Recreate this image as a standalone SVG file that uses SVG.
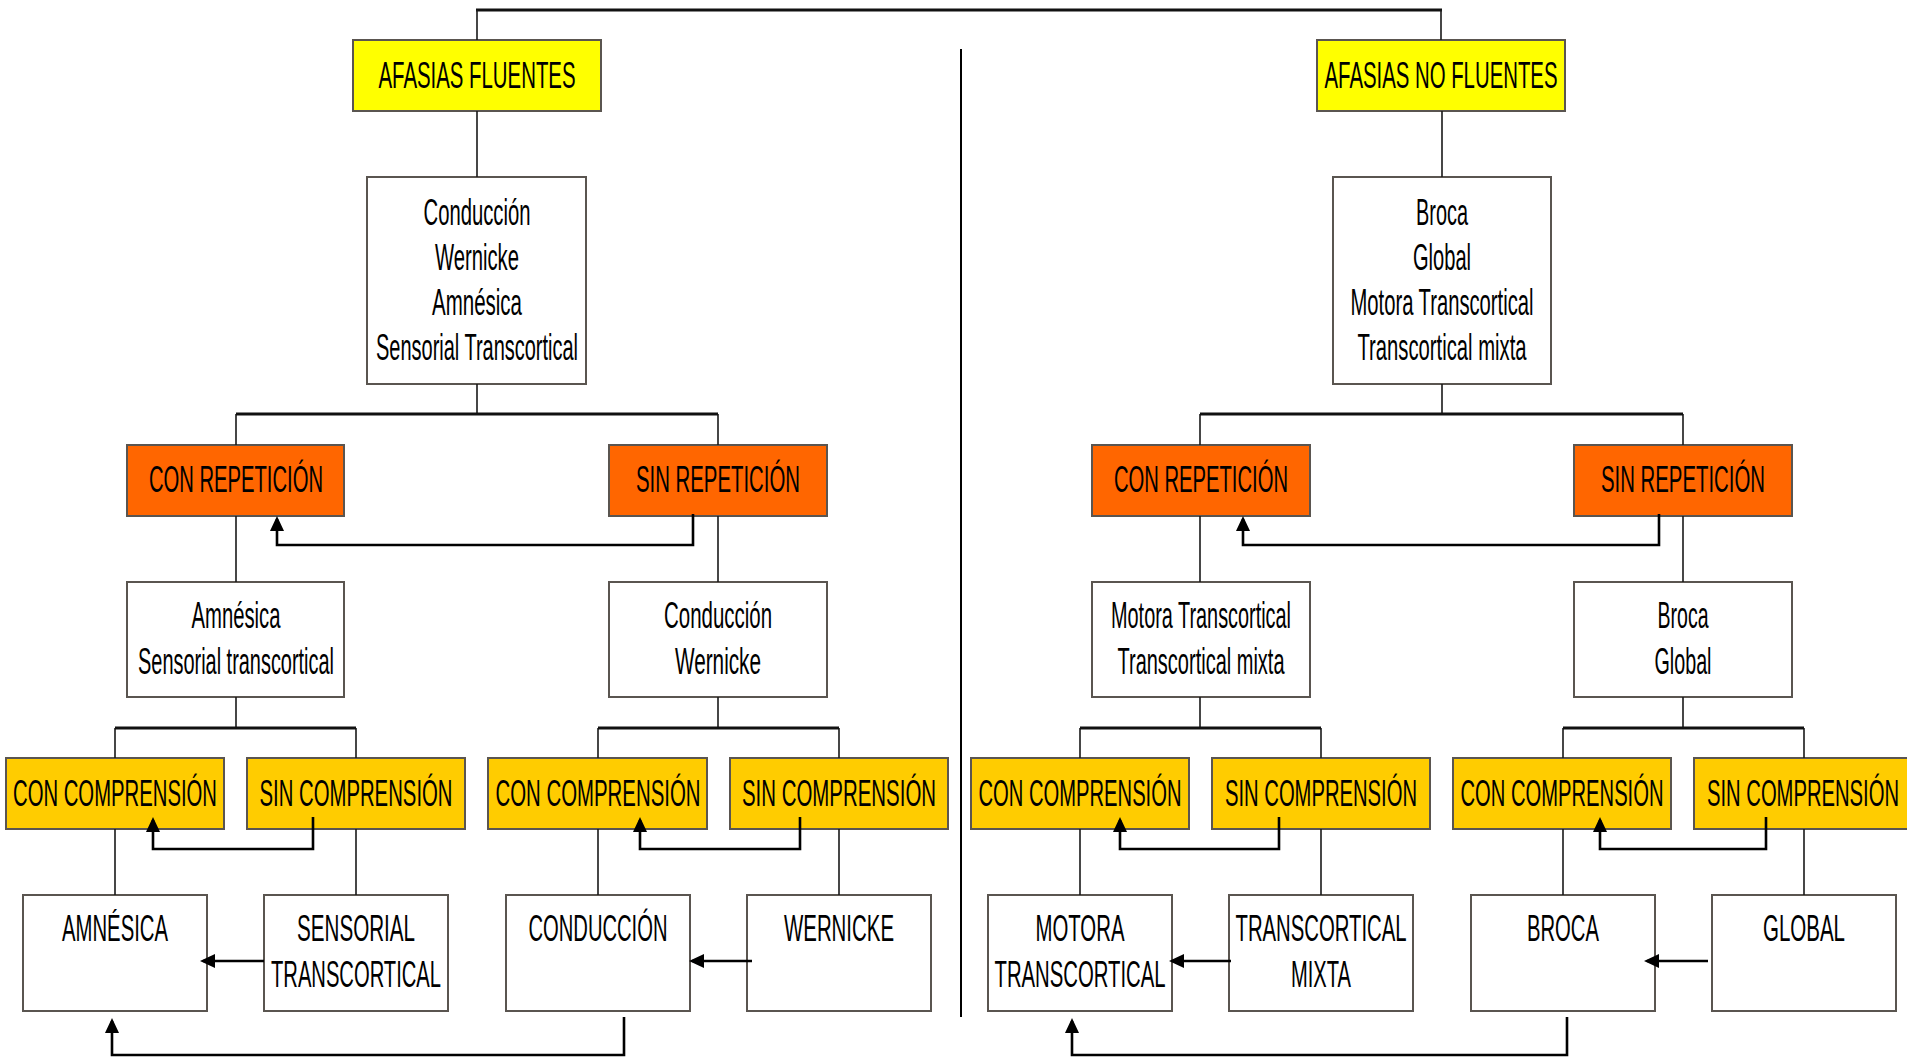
<svg xmlns="http://www.w3.org/2000/svg" width="1907" height="1057" viewBox="0 0 1907 1057">
<style>
.box{stroke:#5a5550;stroke-width:2}
.y{fill:#FFFF00}.o{fill:#FF6600}.g{fill:#FFCC00}.w{fill:#FFFFFF}
text{font-family:"Liberation Sans",Arial,sans-serif;font-size:37px;fill:#000;text-anchor:middle}
.t{fill:none;stroke:#1a1a1a;stroke-width:1.6}
.bar{fill:none;stroke:#111;stroke-width:3}
.a{fill:none;stroke:#000;stroke-width:2.6;marker-end:url(#ah)}
</style>
<defs>
<marker id="ah" markerUnits="userSpaceOnUse" markerWidth="15" markerHeight="14" viewBox="0 0 15 14" refX="12" refY="7" orient="auto">
<path d="M0,0 L15,7 L0,14 z" fill="#000"/>
</marker>
</defs>
<rect width="1907" height="1057" fill="#fff"/>

<g id="n-fluentes"><rect class="box y" x="353" y="40" width="248" height="71"/><text transform="translate(477,88) scale(0.545,1)" textLength="361.5" lengthAdjust="spacingAndGlyphs">AFASIAS FLUENTES</text></g>
<g id="n-nofluentes"><rect class="box y" x="1317" y="40" width="248" height="71"/><text transform="translate(1441,88) scale(0.545,1)" textLength="427.5" lengthAdjust="spacingAndGlyphs">AFASIAS NO FLUENTES</text></g>

<g id="n-list-left"><rect class="box w" x="367" y="177" width="219" height="207"/>
<text transform="translate(477,225) scale(0.545,1)" textLength="196.3" lengthAdjust="spacingAndGlyphs">Conducción</text>
<text transform="translate(477,270) scale(0.545,1)" textLength="154.1" lengthAdjust="spacingAndGlyphs">Wernicke</text>
<text transform="translate(477,315) scale(0.545,1)" textLength="165.1" lengthAdjust="spacingAndGlyphs">Amnésica</text>
<text transform="translate(477,360) scale(0.545,1)" textLength="370.6" lengthAdjust="spacingAndGlyphs">Sensorial Transcortical</text></g>
<g id="n-list-right"><rect class="box w" x="1333" y="177" width="218" height="207"/>
<text transform="translate(1442,225) scale(0.545,1)" textLength="95.4" lengthAdjust="spacingAndGlyphs">Broca</text>
<text transform="translate(1442,270) scale(0.545,1)" textLength="106.4" lengthAdjust="spacingAndGlyphs">Global</text>
<text transform="translate(1442,315) scale(0.545,1)" textLength="335.8" lengthAdjust="spacingAndGlyphs">Motora Transcortical</text>
<text transform="translate(1442,360) scale(0.545,1)" textLength="310.1" lengthAdjust="spacingAndGlyphs">Transcortical mixta</text></g>

<g id="n-conrep-l"><rect class="box o" x="127" y="445" width="217" height="71"/><text transform="translate(236,492) scale(0.545,1)" textLength="319.3" lengthAdjust="spacingAndGlyphs">CON REPETICIÓN</text></g>
<g id="n-sinrep-l"><rect class="box o" x="609" y="445" width="218" height="71"/><text transform="translate(718,492) scale(0.545,1)" textLength="300.9" lengthAdjust="spacingAndGlyphs">SIN REPETICIÓN</text></g>
<g id="n-conrep-r"><rect class="box o" x="1092" y="445" width="218" height="71"/><text transform="translate(1201,492) scale(0.545,1)" textLength="319.3" lengthAdjust="spacingAndGlyphs">CON REPETICIÓN</text></g>
<g id="n-sinrep-r"><rect class="box o" x="1574" y="445" width="218" height="71"/><text transform="translate(1683,492) scale(0.545,1)" textLength="300.9" lengthAdjust="spacingAndGlyphs">SIN REPETICIÓN</text></g>

<g id="n-mid1"><rect class="box w" x="127" y="582" width="217" height="115"/>
<text transform="translate(236,628) scale(0.545,1)" textLength="163.3" lengthAdjust="spacingAndGlyphs">Amnésica</text>
<text transform="translate(236,674) scale(0.545,1)" textLength="359.6" lengthAdjust="spacingAndGlyphs">Sensorial transcortical</text></g>
<g id="n-mid2"><rect class="box w" x="609" y="582" width="218" height="115"/>
<text transform="translate(718,628) scale(0.545,1)" textLength="198.2" lengthAdjust="spacingAndGlyphs">Conducción</text>
<text transform="translate(718,674) scale(0.545,1)" textLength="157.8" lengthAdjust="spacingAndGlyphs">Wernicke</text></g>
<g id="n-mid3"><rect class="box w" x="1092" y="582" width="218" height="115"/>
<text transform="translate(1201,628) scale(0.545,1)" textLength="330.3" lengthAdjust="spacingAndGlyphs">Motora Transcortical</text>
<text transform="translate(1201,674) scale(0.545,1)" textLength="306.4" lengthAdjust="spacingAndGlyphs">Transcortical mixta</text></g>
<g id="n-mid4"><rect class="box w" x="1574" y="582" width="218" height="115"/>
<text transform="translate(1683,628) scale(0.545,1)" textLength="93.6" lengthAdjust="spacingAndGlyphs">Broca</text>
<text transform="translate(1683,674) scale(0.545,1)" textLength="104.6" lengthAdjust="spacingAndGlyphs">Global</text></g>

<g id="n-cc1"><rect class="box g" x="6" y="758" width="218" height="71"/><text transform="translate(115,806) scale(0.545,1)" textLength="374.3" lengthAdjust="spacingAndGlyphs">CON COMPRENSIÓN</text></g>
<g id="n-sc1"><rect class="box g" x="247" y="758" width="218" height="71"/><text transform="translate(356,806) scale(0.545,1)" textLength="354.1" lengthAdjust="spacingAndGlyphs">SIN COMPRENSIÓN</text></g>
<g id="n-cc2"><rect class="box g" x="488" y="758" width="219" height="71"/><text transform="translate(598,806) scale(0.545,1)" textLength="376.1" lengthAdjust="spacingAndGlyphs">CON COMPRENSIÓN</text></g>
<g id="n-sc2"><rect class="box g" x="730" y="758" width="218" height="71"/><text transform="translate(839,806) scale(0.545,1)" textLength="356" lengthAdjust="spacingAndGlyphs">SIN COMPRENSIÓN</text></g>
<g id="n-cc3"><rect class="box g" x="971" y="758" width="218" height="71"/><text transform="translate(1080,806) scale(0.545,1)" textLength="372.5" lengthAdjust="spacingAndGlyphs">CON COMPRENSIÓN</text></g>
<g id="n-sc3"><rect class="box g" x="1212" y="758" width="218" height="71"/><text transform="translate(1321,806) scale(0.545,1)" textLength="352.3" lengthAdjust="spacingAndGlyphs">SIN COMPRENSIÓN</text></g>
<g id="n-cc4"><rect class="box g" x="1453" y="758" width="218" height="71"/><text transform="translate(1562,806) scale(0.545,1)" textLength="372.5" lengthAdjust="spacingAndGlyphs">CON COMPRENSIÓN</text></g>
<g id="n-sc4"><rect class="box g" x="1694" y="758" width="218" height="71"/><text transform="translate(1803,806) scale(0.545,1)" textLength="352.3" lengthAdjust="spacingAndGlyphs">SIN COMPRENSIÓN</text></g>

<g id="n-amnesica"><rect class="box w" x="23" y="895" width="184" height="116"/><text transform="translate(115,941) scale(0.545,1)" textLength="194.5" lengthAdjust="spacingAndGlyphs">AMNÉSICA</text></g>
<g id="n-sensorial"><rect class="box w" x="264" y="895" width="184" height="116"/><text transform="translate(356,941) scale(0.545,1)" textLength="216.5" lengthAdjust="spacingAndGlyphs">SENSORIAL</text><text transform="translate(356,987) scale(0.545,1)" textLength="311.9" lengthAdjust="spacingAndGlyphs">TRANSCORTICAL</text></g>
<g id="n-conduccion"><rect class="box w" x="506" y="895" width="184" height="116"/><text transform="translate(598,941) scale(0.545,1)" textLength="255" lengthAdjust="spacingAndGlyphs">CONDUCCIÓN</text></g>
<g id="n-wernicke"><rect class="box w" x="747" y="895" width="184" height="116"/><text transform="translate(839,941) scale(0.545,1)" textLength="201.8" lengthAdjust="spacingAndGlyphs">WERNICKE</text></g>
<g id="n-motora"><rect class="box w" x="988" y="895" width="184" height="116"/><text transform="translate(1080,941) scale(0.545,1)" textLength="163.3" lengthAdjust="spacingAndGlyphs">MOTORA</text><text transform="translate(1080,987) scale(0.545,1)" textLength="313.8" lengthAdjust="spacingAndGlyphs">TRANSCORTICAL</text></g>
<g id="n-mixta"><rect class="box w" x="1229" y="895" width="184" height="116"/><text transform="translate(1321,941) scale(0.545,1)" textLength="313.8" lengthAdjust="spacingAndGlyphs">TRANSCORTICAL</text><text transform="translate(1321,987) scale(0.545,1)" textLength="110.1" lengthAdjust="spacingAndGlyphs">MIXTA</text></g>
<g id="n-broca"><rect class="box w" x="1471" y="895" width="184" height="116"/><text transform="translate(1563,941) scale(0.545,1)" textLength="132.1" lengthAdjust="spacingAndGlyphs">BROCA</text></g>
<g id="n-global"><rect class="box w" x="1712" y="895" width="184" height="116"/><text transform="translate(1804,941) scale(0.545,1)" textLength="150.5" lengthAdjust="spacingAndGlyphs">GLOBAL</text></g>

<g id="connectors">
<path class="bar" d="M476,10 H1442"/>
<path class="t" d="M477,10 V40 M1441,10 V40 M477,111 V177 M1442,111 V177"/>
<line x1="961" y1="49" x2="961" y2="1017" stroke="#000" stroke-width="2"/>
<path class="t" d="M477,384 V414 M236,414 V445 M718,414 V445 M236,516 V582 M718,516 V582 M236,697 V728 M718,697 V728 M115,728 V758 M356,728 V758 M598,728 V758 M839,728 V758 M115,829 V895 M356,829 V895 M598,829 V895 M839,829 V895"/>
<path class="t" d="M1442,384 V414 M1200,414 V445 M1683,414 V445 M1200,516 V582 M1683,516 V582 M1200,697 V728 M1683,697 V728 M1080,728 V758 M1321,728 V758 M1563,728 V758 M1804,728 V758 M1080,829 V895 M1321,829 V895 M1563,829 V895 M1804,829 V895"/>
<path class="bar" d="M236,414 H718 M115,728 H356 M598,728 H839 M1200,414 H1683 M1080,728 H1321 M1563,728 H1804"/>
<path class="a" d="M693,514 V545 H277 V519"/>
<path class="a" d="M1659,514 V545 H1243 V519"/>
<path class="a" d="M313,817 V849 H153 V820"/>
<path class="a" d="M800,817 V849 H640 V820"/>
<path class="a" d="M1279,817 V849 H1120 V820"/>
<path class="a" d="M1766,817 V849 H1600 V820"/>
<path class="a" d="M264,961 H203"/>
<path class="a" d="M752,961 H692"/>
<path class="a" d="M1231,961 H1172"/>
<path class="a" d="M1708,961 H1647"/>
<path class="a" d="M624,1017 V1055 H112 V1021"/>
<path class="a" d="M1567,1017 V1055 H1072 V1021"/>
</g>
</svg>
